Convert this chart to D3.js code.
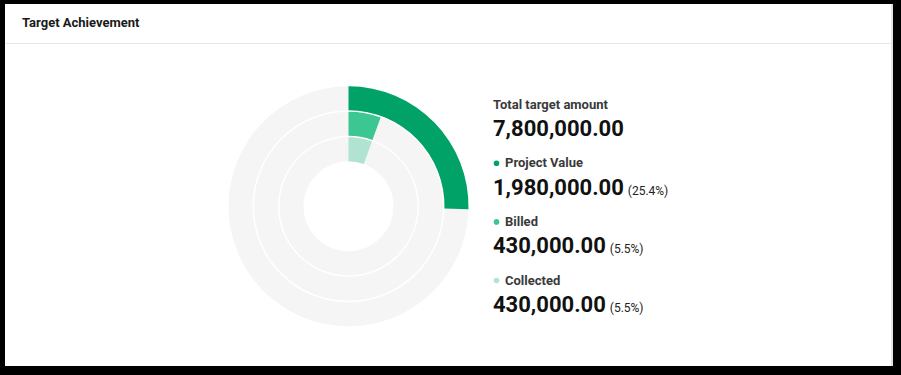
<!DOCTYPE html>
<html>
<head>
<meta charset="utf-8">
<script src="https://cdn.jsdelivr.net/npm/d3@7"></script>
<style>
	html, body { margin: 0; padding: 0; background: #000; }
	svg { display: block; font-family: Roboto, "Noto Sans", sans-serif; }
</style>
</head>
<body>
<svg id="chart" width="901" height="375"></svg>
<script>
/* global d3 */

// Daten
var titel = 'Target Achievement';
var totalLabel = 'Total target amount';
var totalTarget = 7800000;
var seriesNames = ['Project Value', 'Billed', 'Collected'];
var seriesValues = [1980000, 430000, 430000];
var seriesColors = ['#00a268', '#3bc692', '#b0e3d2'];

var svg = d3.select('#chart');

// Karte
svg.append('rect').attr('x', 5).attr('y', 4).attr('width', 888).attr('height', 362).attr('fill', '#fff');
svg.append('rect').attr('x', 891).attr('y', 4).attr('width', 2).attr('height', 362).attr('fill', '#e2e2e2');
svg.append('rect').attr('x', 5).attr('y', 43).attr('width', 886).attr('height', 1).attr('fill', '#e6e6e6');
svg.append('text').attr('x', 22).attr('y', 27)
	.attr('font-size', 13).attr('font-weight', 700).attr('fill', '#1a1a1a')
	.text(titel);

// Ringe
var cx = 348.5;
var cy = 206.3;
var angle = d3.scaleLinear().domain([0, totalTarget]).range([0, 2 * Math.PI]);
// Band-Skala: radius(name) liefert den inneren Rand des Rings
var radius = d3.scaleBand().domain(seriesNames).range([120, 45]).paddingInner(0.06);
var arc = d3.arc()
	.innerRadius(function (d) { return radius(d.name); })
	.outerRadius(function (d) { return radius(d.name) + radius.bandwidth(); })
	.startAngle(0)
	.endAngle(function (d) { return angle(d.value); });

var gRinge = svg.append('g').attr('transform', 'translate(' + cx + ',' + cy + ')');
var ringData = seriesNames.map(function (n, i) {
	return {name: n, value: seriesValues[i], color: seriesColors[i]};
});
gRinge.selectAll('path.bg').data(ringData).enter().append('path')
	.attr('class', 'bg')
	.attr('fill', '#f5f5f5')
	.attr('d', function (d) { return arc({name: d.name, value: totalTarget}); });
gRinge.selectAll('path.val').data(ringData).enter().append('path')
	.attr('class', 'val')
	.attr('fill', function (d) { return d.color; })
	.attr('d', arc);

// Legende
var fmtZahl = d3.format(',.2f');
var fmtProz = d3.format('.1%');
var lx = 493;
var gLeg = svg.append('g');
gLeg.append('text').attr('x', lx).attr('y', 109)
	.attr('font-size', 13).attr('font-weight', 700).attr('fill', '#3a3a3a')
	.text(totalLabel);
gLeg.append('text').attr('x', lx).attr('y', 135.5)
	.attr('font-size', 22).attr('font-weight', 700).attr('fill', '#111')
	.text(fmtZahl(totalTarget));

ringData.forEach(function (d, i) {
	var y0 = 167.3 + i * 58.6;
	gLeg.append('circle').attr('cx', 496.5).attr('cy', y0 - 4).attr('r', 2.8).attr('fill', d.color);
	gLeg.append('text').attr('x', 505).attr('y', y0)
		.attr('font-size', 13).attr('font-weight', 700).attr('fill', '#3a3a3a')
		.text(d.name);
	var t = gLeg.append('text').attr('x', lx).attr('y', y0 + 27.2).attr('fill', '#111');
	t.append('tspan').attr('font-size', 22).attr('font-weight', 700).text(fmtZahl(d.value));
	t.append('tspan').attr('font-size', 12).attr('font-weight', 400).attr('fill', '#222')
		.attr('dx', 4).text('(' + fmtProz(d.value / totalTarget) + ')');
});
</script>
</body>
</html>
